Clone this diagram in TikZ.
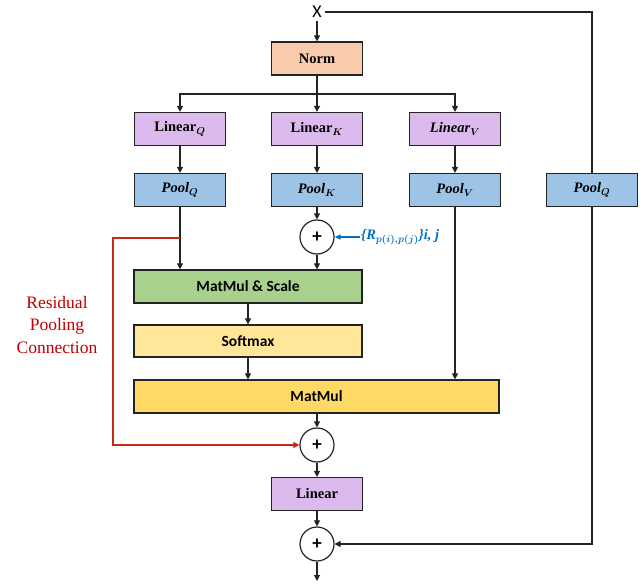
\documentclass[tikz,border=0pt]{standalone}
\usepackage{amsmath,bm}
\usepackage{fontspec}
\setmainfont{Liberation Serif}
\newfontfamily\carl{Carlito}
\usetikzlibrary{arrows.meta}
\definecolor{bord}{RGB}{35,35,35}
\definecolor{cnorm}{RGB}{248,203,173}
\definecolor{clin}{RGB}{221,186,238}
\definecolor{cpool}{RGB}{157,195,230}
\definecolor{cmms}{RGB}{169,209,142}
\definecolor{csoft}{RGB}{255,230,153}
\definecolor{cmm}{RGB}{255,217,102}
\definecolor{cred}{RGB}{200,40,20}
\definecolor{ctred}{RGB}{192,0,0}
\definecolor{cblue}{RGB}{0,112,192}
\tikzset{
  blk/.style={draw=bord, line width=1.2pt, minimum height=33pt, inner sep=0pt, font=\fontsize{14.5}{16}\selectfont\bfseries},
  nbox/.style={blk, minimum width=91pt},
  sbox/.style={blk, font=\carl\bfseries\fontsize{15.5}{16}\selectfont},
  plus/.style={circle, draw=bord, line width=1.2pt, minimum size=34pt, inner sep=0pt, font=\carl\bfseries\fontsize{19}{19}\selectfont},
  arr/.style={-{Triangle[length=6pt,width=6pt]}, line width=1.1pt, draw=bord},
  ln/.style={line width=1.1pt, draw=bord},
}
\begin{document}
\begin{tikzpicture}[x=1pt,y=-1pt]
\useasboundingbox (0,0) rectangle (644,585);
\node[font=\carl\fontsize{18}{18}\selectfont] (x) at (317,12) {X};
\node[nbox, fill=cnorm] (norm) at (317,58.5) {Norm};
\coordinate (br) at (317,94);
\node[nbox, fill=clin] (lq) at (180,129) {Linear$_{\bm{Q}}$};
\node[nbox, fill=clin] (lk) at (317,129) {Linear$_{\bm{K}}$};
\node[nbox, fill=clin] (lv) at (455,129) {\textit{Linear}$_{\bm{V}}$};
\node[nbox, fill=cpool] (pq) at (180,190) {\textit{Pool}$_{\bm{Q}}$};
\node[nbox, fill=cpool] (pk) at (317,190) {\textit{Pool}$_{\bm{K}}$};
\node[nbox, fill=cpool] (pv) at (455,190) {\textit{Pool}$_{\bm{V}}$};
\node[nbox, fill=cpool] (pqr) at (592,190) {\textit{Pool}$_{\bm{Q}}$};
\node[plus] (p1) at (317,237) {+};
\node[anchor=west, text=cblue, font=\fontsize{14.5}{16}\selectfont\bfseries\itshape, inner sep=1pt] (rl) at (360,237) {\{R$_{\bm{p(i),p(j)}}$\}i, j};
\node[sbox, fill=cmms, minimum width=228pt] (mms) at (248,286.5) {MatMul \& Scale};
\node[sbox, fill=csoft, minimum width=228pt, minimum height=32pt] (sm) at (248,341) {Softmax};
\node[sbox, fill=cmm, minimum width=365pt] (mm) at (316.5,396.5) {MatMul};
\node[plus] (p2) at (317,445) {+};
\node[nbox, fill=clin] (lin) at (317,494) {Linear};
\node[plus] (p3) at (317,544) {+};
\coordinate (out) at (317,581);
\coordinate (rc) at (113,238);
\node[text=ctred, align=center, font=\fontsize{17.5}{22.5}\selectfont] (rpc) at (57,325) {Residual\\Pooling\\Connection};
% connectors
\draw[arr] (x) -- (norm);
\draw[ln] (norm) -- (br);
\draw[arr] (br) -| (lq);
\draw[arr] (br) -| (lv);
\draw[arr] (br) -- (lk);
\draw[arr] (lq) -- (pq);
\draw[arr] (lk) -- (pk);
\draw[arr] (lv) -- (pv);
\draw[arr] (pk) -- (p1);
\draw[arr] (p1) -- (p1 |- mms.north);
\draw[arr] (pq) -- (pq |- mms.north);
\draw[arr] (pv) -- (pv |- mm.north);
\draw[arr] (mms) -- (sm);
\draw[arr] (sm) -- (sm |- mm.north);
\draw[arr] (p2 |- mm.south) -- (p2);
\draw[arr] (p2) -- (lin);
\draw[arr] (lin) -- (p3);
\draw[arr] (p3) -- (out);
\draw[-{Triangle[length=6pt,width=6pt]}, line width=1.1pt, cred] (pq |- rc) -- (rc) |- (p2);
\draw[-{Triangle[length=6pt,width=5pt]}, line width=1.3pt, cblue] (rl.west) -- (p1.east);
\draw[ln] (x.east) -| (pqr.north);
\draw[arr] (pqr.south) |- (p3);
\end{tikzpicture}
\end{document}
